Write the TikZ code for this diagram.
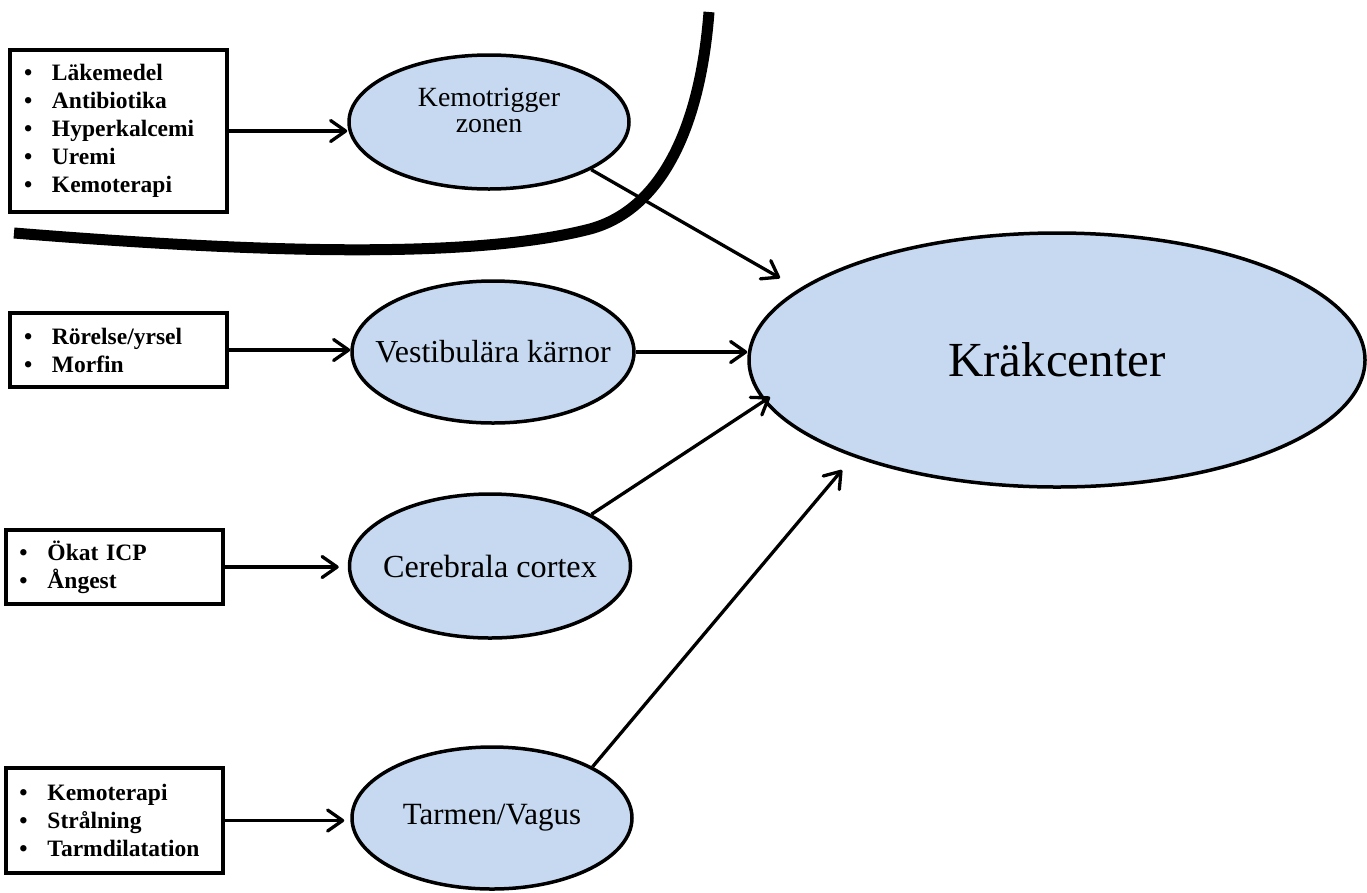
\documentclass[tikz,border=0pt]{standalone}
\usepackage{fontspec}
\setmainfont{Liberation Serif}
\usetikzlibrary{arrows.meta,shapes.geometric,calc}
\definecolor{ovalfill}{RGB}{198,217,241}
\newcommand\itm{\makebox[28pt][l]{\textbullet}}
\begin{document}
\begin{tikzpicture}[x=1pt,y=-1pt,
  box/.style={draw, line width=4pt, minimum width=217pt, text width=189pt, inner xsep=14pt, inner ysep=0pt, align=left, font=\fontsize{23.5}{28}\selectfont\bfseries},
  oval/.style={ellipse, draw, line width=3.5pt, fill=ovalfill, inner xsep=-40pt, inner ysep=0pt, align=center},
  arr/.style={line width=3.3pt, -{Straight Barb[length=15pt,width=21pt,round]}},
  wall/.style={line width=11pt},
]
\useasboundingbox (0,0) rectangle (1367,892);

% boxes
\node[box, minimum height=162pt] (b1) at (118.5,131) {\itm Läkemedel\\\itm Antibiotika\\\itm Hyperkalcemi\\\itm Uremi\\\itm Kemoterapi};
\node[box, minimum height=74pt] (b2) at (118.5,350) {\itm Rörelse/yrsel\\\itm Morfin};
\node[box, minimum height=74pt] (b3) at (114,567) {\itm Ökat ICP\\\itm Ångest};
\node[box, minimum height=105pt] (b4) at (114,820.5) {\itm Kemoterapi\\\itm Strålning\\\itm Tarmdilatation};

% ovals
\node[oval, minimum width=280pt, minimum height=134pt, font=\fontsize{27.8}{26}\selectfont, text depth=24pt] (k) at (489,122) {Kemotrigger\\zonen};
\node[oval, minimum width=282pt, minimum height=142pt, font=\fontsize{32}{34}\selectfont] (v) at (493,352) {Vestibulära kärnor};
\node[oval, minimum width=281pt, minimum height=144pt, font=\fontsize{32.2}{34}\selectfont] (c) at (490,566) {Cerebrala cortex};
\node[oval, minimum width=280pt, minimum height=142pt, font=\fontsize{30.9}{34}\selectfont] (t) at (492,818) {Tarmen/Vagus};
\node[oval, minimum width=616pt, minimum height=254pt, font=\fontsize{49}{52}\selectfont] (kc) at (1057,360) {Kräkcenter};

% arrow tip points near the vomiting centre
\coordinate (t1) at (780,278);
\coordinate (t3) at (770,397);
\coordinate (t4) at (842,470);

% arrows from boxes
\draw[arr] (b1.east) -- (b1.east -| k.west);
\draw[arr] (b2.east) -- (b2.east -| v.west);
\draw[arr, shorten >=9pt] (b3.east) -- (b3.east -| c.west);
\draw[arr, shorten >=6pt] (b4.east) -- (b4.east -| t.west);

% arrows to Kräkcenter
\draw[arr] (k.-25) -- (t1);
\draw[arr] (v.east) -- (v.east -| kc.west);
\draw[arr] (c.27) -- (t3);
\draw[arr] (t.27) -- (t4);

% blood-brain barrier curve
\draw[wall] (14,233) .. controls (250,252) and (470,260) .. (590,229) .. controls (660,210) and (700,130) .. (709,12);
\end{tikzpicture}
\end{document}
